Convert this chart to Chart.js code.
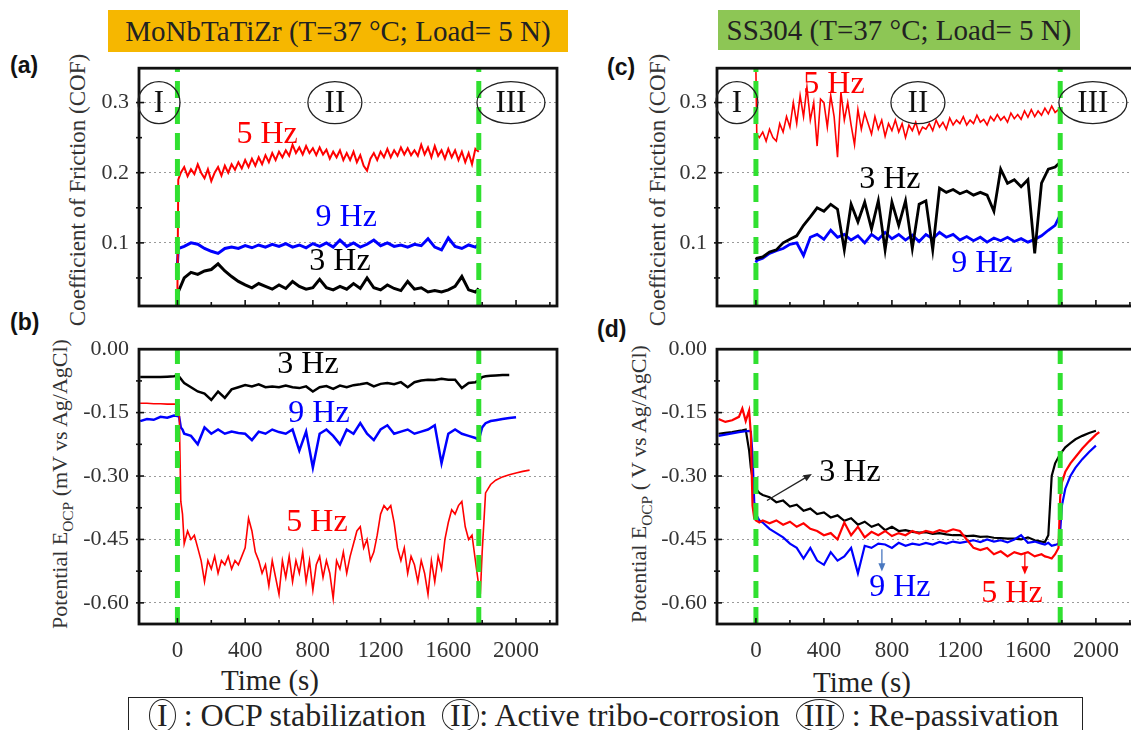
<!DOCTYPE html>
<html lang="en">
<head>
<meta charset="UTF-8">
<title>Tribo-corrosion: MoNbTaTiZr vs SS304</title>
<script src="https://cdn.jsdelivr.net/npm/chart.js"></script>
<style>
    body {
        margin: 0;
        width: 1131px;
        height: 730px;
        overflow: hidden;
        position: relative;
        background: #fff;
        font-family: "Liberation Serif", serif;
        color: #222;
    }
    .panel { position: absolute; }
    .tag {
        position: absolute;
        font-family: "Liberation Sans", Arial, sans-serif;
        font-weight: bold;
        font-size: 23px;
        color: #111;
    }
    .head {
        position: absolute;
        font-size: 29px;
        text-align: center;
        color: #222;
    }
    .ytitle {
        position: absolute;
        white-space: nowrap;
        transform: translate(-50%, -50%) rotate(-90deg);
        color: #333;
    }
    .ytitle sub { font-size: 0.7em; }
    .xtitle {
        position: absolute;
        font-size: 29px;
        transform: translate(-50%, -50%);
        white-space: nowrap;
        color: #222;
    }
    #legend {
        position: absolute;
        left: 128px;
        top: 697px;
        width: 955px;
        height: 40px;
        border: 1.5px solid #222;
        font-size: 32px;
        line-height: 34px;
        padding-left: 20px;
        box-sizing: border-box;
        white-space: nowrap;
        color: #222;
    }
    .ci {
        display: inline-block;
        border: 1.3px solid #222;
        border-radius: 50%;
        padding: 0 7px;
        line-height: 31px;
    }
</style>
</head>
<body>

<div class="head" style="left:108px;top:10px;width:460px;height:42px;line-height:42px;background:#f6b700;">MoNbTaTiZr (T=37 °C; Load= 5 N)</div>
<div class="head" style="left:718px;top:10px;width:362px;height:40px;line-height:40px;background:#8dc655;">SS304 (T=37 °C; Load= 5 N)</div>

<div class="tag" style="left:10px;top:52px;">(a)</div>
<div class="tag" style="left:10px;top:309px;">(b)</div>
<div class="tag" style="left:607px;top:54px;">(c)</div>
<div class="tag" style="left:597px;top:316px;">(d)</div>

<div class="ytitle" style="left:78px;top:190px;font-size:23px;">Coefficient of Friction (COF)</div>
<div class="ytitle" style="left:62px;top:484px;font-size:22px;">Potential E<sub>OCP</sub> (mV vs Ag/AgCl)</div>
<div class="ytitle" style="left:658px;top:190px;font-size:23px;">Coefficient of Friction (COF)</div>
<div class="ytitle" style="left:641px;top:484px;font-size:22px;">Potential E<sub>OCP</sub> ( V vs Ag/AgCl)</div>

<div class="panel" style="left:69px;top:45px;width:504px;height:313px;"><canvas id="chartA"></canvas></div>
<div class="panel" style="left:69px;top:326px;width:504px;height:334px;"><canvas id="chartB"></canvas></div>
<div class="panel" style="left:647px;top:45px;width:504px;height:313px;"><canvas id="chartC"></canvas></div>
<div class="panel" style="left:647px;top:326px;width:504px;height:334px;"><canvas id="chartD"></canvas></div>

<div class="xtitle" style="left:270px;top:680px;">Time (s)</div>
<div class="xtitle" style="left:862px;top:682px;">Time (s)</div>

<div id="legend"><span class="ci">I</span>&nbsp;: OCP stabilization&nbsp;&nbsp;<span class="ci">II</span>: Active tribo-corrosion&nbsp;&nbsp;<span class="ci">III</span>&nbsp;: Re-passivation</div>

<script>
    // ---- data (time in s) ----
    // (a) COF, MoNbTaTiZr
    const tA = [0, 5, 40, 80, 120, 160, 200, 240, 280, 320, 360, 400, 440, 480, 520, 560, 600, 640, 680, 720,
        760, 800, 840, 880, 920, 960, 1000, 1040, 1080, 1120, 1160, 1200, 1240, 1280, 1320, 1360, 1400, 1440,
        1480, 1520, 1560, 1600, 1640, 1680, 1720, 1760, 1780];
    const tA5 = [0, 5,
        20, 40, 60, 80, 100, 120, 140, 160, 180, 200, 220, 240, 260, 280, 300, 320, 340, 360, 380, 400,
        420, 440, 460, 480, 500, 520, 540, 560, 580, 600, 620, 640, 660, 680, 700, 720, 740, 760, 780, 800,
        820, 840, 860, 880, 900, 920, 940, 960, 980, 1000, 1020, 1040, 1060, 1080, 1100, 1120, 1140, 1160,
        1180, 1200, 1220, 1240, 1260, 1280, 1300, 1320, 1340, 1360, 1380, 1400, 1420, 1440, 1460, 1480, 1500,
        1520, 1540, 1560, 1580, 1600, 1620, 1640, 1660, 1680, 1700, 1720, 1740, 1760, 1780];
    const cofA5 = [0.03, 0.19,
        0.2, 0.208, 0.195, 0.205, 0.198, 0.212, 0.2, 0.192, 0.205, 0.188,
        0.2, 0.208, 0.196, 0.21, 0.2, 0.212, 0.204, 0.215, 0.206, 0.218,
        0.208, 0.22, 0.21, 0.222, 0.212, 0.225, 0.215, 0.228, 0.218, 0.23,
        0.222, 0.232, 0.224, 0.24, 0.228, 0.236, 0.226, 0.238, 0.228, 0.235,
        0.225, 0.236, 0.226, 0.233, 0.22, 0.23, 0.222, 0.232, 0.218, 0.228,
        0.218, 0.23, 0.215, 0.225, 0.21, 0.203, 0.22, 0.228, 0.218, 0.23,
        0.222, 0.234, 0.222, 0.232, 0.224, 0.236, 0.226, 0.235, 0.225, 0.232,
        0.224, 0.24, 0.226, 0.236, 0.222, 0.238, 0.224, 0.232, 0.22, 0.234,
        0.222, 0.232, 0.218, 0.23, 0.215, 0.228, 0.212, 0.234, 0.23];
    const cofA9 = [0.07, 0.092,
        0.095, 0.1, 0.098, 0.092, 0.088, 0.085, 0.092, 0.094, 0.092, 0.096,
        0.093, 0.097, 0.094, 0.098, 0.095, 0.099, 0.094, 0.097, 0.093, 0.099,
        0.095, 0.1, 0.094, 0.104, 0.095, 0.1, 0.094, 0.098, 0.104, 0.096,
        0.1, 0.095, 0.097, 0.094, 0.098, 0.096, 0.106, 0.094, 0.09, 0.107,
        0.095, 0.092, 0.097, 0.094, 0.098];
    const cofA3 = [0.005, 0.03,
        0.05, 0.058, 0.055, 0.06, 0.062, 0.07, 0.06, 0.052, 0.045, 0.04,
        0.036, 0.042, 0.038, 0.034, 0.04, 0.035, 0.045, 0.038, 0.034, 0.036,
        0.048, 0.036, 0.033, 0.038, 0.034, 0.042, 0.035, 0.05, 0.036, 0.033,
        0.04, 0.035, 0.032, 0.045, 0.034, 0.036, 0.03, 0.032, 0.03, 0.033,
        0.038, 0.052, 0.033, 0.03, 0.035];

    // (b) E_OCP, MoNbTaTiZr
    const tB = [-220, -180, -140, -100, -60, -20, 0, 10, 20, 30, 40,
        80, 120, 160, 200, 240, 280, 320, 360, 400, 440, 480, 520, 560, 600, 640, 680, 720, 760, 800, 840,
        880, 920, 960, 1000, 1040, 1080, 1120, 1160, 1200, 1240, 1280, 1320, 1360, 1400, 1440, 1480, 1520,
        1560, 1600, 1640, 1680, 1720, 1760,
        1780, 1790, 1800, 1820, 1850, 1880, 1920, 1960, 2000, 2040, 2080];
    const tB5 = [-220, -180, -140, -100, -60, -20, 0, 10, 20, 30, 40,
        60, 80, 100, 120, 140, 160, 180, 200, 220, 240, 260, 280, 300, 320, 340, 360, 380, 400, 420, 440,
        460, 480, 500, 520, 540, 560, 580, 600, 620, 640, 660, 680, 700, 720, 740, 760, 780, 800, 820, 840,
        860, 880, 900, 920, 940, 960, 980, 1000, 1020, 1040, 1060, 1080, 1100, 1120, 1140, 1160, 1180, 1200,
        1220, 1240, 1260, 1280, 1300, 1320, 1340, 1360, 1380, 1400, 1420, 1440, 1460, 1480, 1500, 1520, 1540,
        1560, 1580, 1600, 1620, 1640, 1660, 1680, 1700, 1720, 1740, 1760,
        1780, 1790, 1800, 1820, 1850, 1880, 1920, 1960, 2000, 2040, 2080];
    const ocpB5 = [-0.128, -0.128, -0.129, -0.129, -0.13, -0.13, -0.13, -0.132, -0.36, -0.39, -0.46,
        -0.43, -0.45, -0.44, -0.47, -0.5, -0.55, -0.5, -0.52, -0.49, -0.53,
        -0.5, -0.51, -0.49, -0.52, -0.5, -0.51, -0.49, -0.47, -0.4, -0.43,
        -0.48, -0.5, -0.53, -0.51, -0.56, -0.5, -0.54, -0.58, -0.5, -0.54,
        -0.49, -0.55, -0.5, -0.53, -0.48, -0.55, -0.5, -0.57, -0.51, -0.49,
        -0.54, -0.5, -0.53, -0.59, -0.5, -0.52, -0.48, -0.53, -0.49, -0.46,
        -0.43, -0.42, -0.47, -0.45, -0.5, -0.48, -0.44, -0.39, -0.37, -0.38,
        -0.37, -0.41, -0.47, -0.5, -0.47, -0.53, -0.49, -0.51, -0.55, -0.5,
        -0.53, -0.58, -0.5, -0.55, -0.49, -0.52, -0.45, -0.41, -0.38, -0.39,
        -0.37, -0.36, -0.42, -0.45, -0.44, -0.5,
        -0.56, -0.57, -0.48, -0.34, -0.32, -0.31, -0.302, -0.297, -0.293, -0.289, -0.286];
    const ocpB9 = [-0.17, -0.165, -0.167, -0.16, -0.162, -0.157, -0.158, -0.16, -0.185, -0.19, -0.2,
        -0.205, -0.225, -0.185, -0.2, -0.19, -0.2, -0.195, -0.198, -0.2, -0.215,
        -0.195, -0.2, -0.19, -0.196, -0.2, -0.19, -0.24, -0.195, -0.28, -0.2,
        -0.19, -0.205, -0.225, -0.19, -0.2, -0.175, -0.2, -0.215, -0.19, -0.18,
        -0.2, -0.195, -0.19, -0.2, -0.195, -0.19, -0.18, -0.27, -0.2, -0.19,
        -0.2, -0.205, -0.21,
        -0.215, -0.2, -0.185, -0.175, -0.17, -0.168, -0.165, -0.163, -0.161, null, null];
    const ocpB3 = [-0.066, -0.066, -0.066, -0.066, -0.065, -0.064, -0.062, -0.065, -0.07, -0.075, -0.08,
        -0.09, -0.1, -0.105, -0.12, -0.1, -0.115, -0.095, -0.09, -0.085, -0.088,
        -0.083, -0.09, -0.088, -0.09, -0.086, -0.09, -0.092, -0.088, -0.1, -0.09,
        -0.087, -0.094, -0.086, -0.09, -0.085, -0.083, -0.08, -0.088, -0.082, -0.08,
        -0.083, -0.078, -0.09, -0.078, -0.074, -0.072, -0.073, -0.07, -0.072, -0.072,
        -0.092, -0.08, -0.078,
        -0.074, -0.07, -0.066, -0.064, -0.063, -0.062, -0.061, -0.061, null, null, null];

    // (c) COF, SS304
    const tC = [0, 5, 40, 80, 120, 160, 200, 240, 280, 320, 360, 400, 440, 480, 520, 560, 600, 640, 680, 720,
        760, 800, 840, 880, 920, 960, 1000, 1040, 1080, 1120, 1160, 1200, 1240, 1280, 1320, 1360, 1400, 1440,
        1480, 1520, 1560, 1600, 1640, 1680, 1720, 1760, 1790];
    const tC5 = [0, 5,
        20, 40, 60, 80, 100, 120, 140, 160, 180, 200, 220, 240, 260, 280, 300, 320, 340, 360, 380, 400,
        420, 440, 460, 480, 500, 520, 540, 560, 580, 600, 620, 640, 660, 680, 700, 720, 740, 760, 780, 800,
        820, 840, 860, 880, 900, 920, 940, 960, 980, 1000, 1020, 1040, 1060, 1080, 1100, 1120, 1140, 1160,
        1180, 1200, 1220, 1240, 1260, 1280, 1300, 1320, 1340, 1360, 1380, 1400, 1420, 1440, 1460, 1480, 1500,
        1520, 1540, 1560, 1580, 1600, 1620, 1640, 1660, 1680, 1700, 1720, 1740, 1760, 1780, 1790];
    const cofC5 = [0.345, 0.255,
        0.25, 0.258, 0.245, 0.262, 0.25, 0.245, 0.27, 0.258, 0.28, 0.265,
        0.3, 0.27, 0.31, 0.28, 0.322, 0.275, 0.3, 0.238, 0.305, 0.3,
        0.265, 0.31, 0.28, 0.222, 0.315, 0.275, 0.3, 0.268, 0.24, 0.29,
        0.262, 0.285, 0.27, 0.255, 0.28, 0.262, 0.275, 0.252, 0.27, 0.26,
        0.275, 0.258, 0.27, 0.25, 0.268, 0.26, 0.272, 0.255, 0.265, 0.262,
        0.27, 0.26, 0.275, 0.265, 0.272, 0.262, 0.278, 0.268, 0.275, 0.27,
        0.28, 0.268, 0.275, 0.27, 0.282, 0.272, 0.276, 0.268, 0.28, 0.274,
        0.283, 0.275, 0.28, 0.272, 0.285, 0.277, 0.283, 0.276, 0.288, 0.279,
        0.29, 0.28, 0.288, 0.282, 0.292, 0.284, 0.295, 0.286, 0.29,
        0.29];
    const cofC3 = [0.076, 0.078,
        0.08, 0.087, 0.09, 0.1, 0.105, 0.11, 0.125, 0.137, 0.15, 0.145,
        0.155, 0.148, 0.09, 0.155, 0.13, 0.158, 0.12, 0.16, 0.09, 0.158,
        0.125, 0.16, 0.092, 0.155, 0.16, 0.09, 0.178, 0.172, 0.176, 0.17,
        0.174, 0.168, 0.172, 0.168, 0.145, 0.205, 0.185, 0.19, 0.18, 0.19,
        0.085, 0.185, 0.205, 0.208, 0.215];
    const cofC9 = [0.072, 0.075,
        0.078, 0.085, 0.089, 0.092, 0.098, 0.1, 0.082, 0.108, 0.112, 0.105,
        0.118, 0.108, 0.112, 0.104, 0.11, 0.1, 0.112, 0.105, 0.115, 0.106,
        0.112, 0.104, 0.111, 0.102, 0.112, 0.106, 0.115, 0.108, 0.112, 0.104,
        0.109, 0.103, 0.108, 0.101, 0.107, 0.103, 0.108, 0.102, 0.106, 0.101,
        0.105, 0.11, 0.118, 0.125, 0.14];

    // (d) E_OCP, SS304
    const tD = [-220, -180, -140, -100, -80, -60, -40, -30, -20, -10, 0, 20, 40,
        80, 120, 160, 200, 240, 280, 320, 360, 400, 440, 480, 520, 560, 600, 640, 680, 720, 760, 800, 840,
        880, 920, 960, 1000, 1040, 1080, 1120, 1160, 1200, 1240, 1280, 1320, 1360, 1400, 1440, 1480, 1520,
        1560, 1600, 1640, 1680,
        1700, 1720, 1740, 1760, 1780, 1790, 1800, 1820, 1850, 1880, 1920, 1960, 2000, 2020];
    const ocpD5 = [-0.165, -0.172, -0.168, -0.16, -0.14, -0.17, -0.145, -0.2, -0.37, -0.4, -0.405, -0.41, -0.405,
        -0.412, -0.405, -0.415, -0.408, -0.42, -0.412, -0.425, -0.43, -0.44, -0.435,
        -0.45, -0.41, -0.44, -0.42, -0.445, -0.432, -0.44, -0.43, -0.442, -0.435,
        -0.44, -0.43, -0.436, -0.43, -0.434, -0.428, -0.432, -0.426, -0.43, -0.45,
        -0.47, -0.475, -0.47, -0.485, -0.478, -0.49, -0.48, -0.485, -0.48, -0.49,
        -0.485,
        -0.49, -0.492, -0.495, -0.485, -0.47, -0.35, -0.315, -0.29, -0.27, -0.255, -0.235, -0.218, -0.202, -0.196];
    const ocpD3 = [-0.2, -0.198, -0.196, -0.193, -0.192, -0.19, -0.24, -0.28, -0.305, -0.32, -0.33, -0.34, -0.345,
        -0.35, -0.362, -0.358, -0.372, -0.368, -0.382, -0.377, -0.39, -0.386, -0.398,
        -0.393, -0.406, -0.4, -0.415, -0.408, -0.42, -0.414, -0.428, -0.42, -0.43,
        -0.428, -0.432, -0.434, -0.433, -0.437, -0.435, -0.438, -0.44, -0.44, -0.442,
        -0.441, -0.444, -0.443, -0.446, -0.447, -0.448, -0.448, -0.45, -0.445, -0.452,
        -0.455,
        -0.456, -0.44, -0.3, -0.27, -0.255, -0.25, -0.243, -0.232, -0.222, -0.213, -0.205, -0.198, -0.193, null];
    const ocpD9 = [-0.205, -0.202, -0.199, -0.196, -0.195, -0.194, -0.193, -0.195, -0.25, -0.36, -0.39, -0.405, -0.41,
        -0.425, -0.435, -0.445, -0.46, -0.47, -0.495, -0.47, -0.5, -0.51, -0.48,
        -0.5, -0.49, -0.47, -0.53, -0.465, -0.47, -0.46, -0.462, -0.47, -0.458,
        -0.465, -0.46, -0.463, -0.458, -0.462, -0.456, -0.46, -0.455, -0.458, -0.455,
        -0.452, -0.456, -0.45, -0.455, -0.452, -0.457, -0.45, -0.44, -0.458, -0.455,
        -0.46,
        -0.462, -0.458, -0.465, -0.463, -0.46, -0.43, -0.37, -0.33, -0.3, -0.28, -0.26, -0.243, -0.228, null];

    // phase boundaries (start / end of rubbing)
    const phaseLeft = [0, 1780];
    const phaseRight = [0, 1790];

    // axis ticks
    const timeTicks = [0, 400, 800, 1200, 1600, 2000];
    const cofTicks = [0.1, 0.2, 0.3];
    const ocpTicks = [0, -0.15, -0.3, -0.45, -0.6];

    const RED = '#ff0000', BLUE = '#0000ff', BLACK = '#000000', GREEN = '#30e030';
    const SERIF = "'Liberation Serif', 'Times New Roman', serif";

    function series(t, v) {
        var out = [];
        t.forEach(function (x, i) {
            if (v[i] !== null && v[i] !== undefined) out.push({x: x, y: v[i]});
        });
        return out;
    }

    function line(t, v, color, width, order) {
        return {data: series(t, v), borderColor: color, borderWidth: width, order: order};
    }

    function phaseLines(xs, yMin, yMax) {
        return xs.map(function (x) {
            return {
                data: [{x: x, y: yMin}, {x: x, y: yMax}],
                borderColor: GREEN, borderWidth: 5, borderDash: [17, 9], order: 0
            };
        });
    }

    // frame + small inward ticks
    const framePlugin = {
        id: 'frame',
        afterDatasetsDraw(chart, args, o) {
            const ctx = chart.ctx, a = chart.chartArea, x = chart.scales.x, y = chart.scales.y;
            ctx.save();
            ctx.strokeStyle = '#111';
            ctx.lineWidth = 1.6;
            for (let v = 0; v <= 2200; v += 200) {
                const px = x.getPixelForValue(v);
                const len = v % 400 === 0 ? 6 : 4;
                ctx.beginPath(); ctx.moveTo(px, a.bottom); ctx.lineTo(px, a.bottom - len); ctx.stroke();
            }
            o.yMarks.forEach(function (v, i) {
                const py = y.getPixelForValue(v);
                ctx.beginPath(); ctx.moveTo(a.left - 3, py); ctx.lineTo(a.left + (i % 2 ? 5 : 3), py); ctx.stroke();
            });
            ctx.lineWidth = 2.8;
            ctx.strokeRect(a.left, a.top, a.right - a.left, a.bottom - a.top);
            ctx.restore();
        }
    };

    function drawArrow(ctx, x1, y1, x2, y2, color, w) {
        const ang = Math.atan2(y2 - y1, x2 - x1), h = 9;
        ctx.strokeStyle = color; ctx.fillStyle = color; ctx.lineWidth = w;
        ctx.beginPath(); ctx.moveTo(x1, y1);
        ctx.lineTo(x2 - Math.cos(ang) * h * 0.7, y2 - Math.sin(ang) * h * 0.7); ctx.stroke();
        ctx.beginPath(); ctx.moveTo(x2, y2);
        ctx.lineTo(x2 - h * Math.cos(ang - 0.4), y2 - h * Math.sin(ang - 0.4));
        ctx.lineTo(x2 - h * Math.cos(ang + 0.4), y2 - h * Math.sin(ang + 0.4));
        ctx.closePath(); ctx.fill();
    }

    // labels, circled phase numbers, arrows (placed in data coordinates)
    const notesPlugin = {
        id: 'notes',
        afterDraw(chart, args, o) {
            const ctx = chart.ctx, x = chart.scales.x, y = chart.scales.y;
            ctx.save();
            ctx.textAlign = 'center';
            ctx.textBaseline = 'middle';
            (o.circles || []).forEach(function (c) {
                const cx = x.getPixelForValue(c.x), cy = y.getPixelForValue(c.y);
                ctx.beginPath();
                ctx.ellipse(cx, cy, c.rx, 21, 0, 0, Math.PI * 2);
                ctx.lineWidth = 1.3; ctx.strokeStyle = '#222'; ctx.stroke();
                ctx.font = '31px ' + SERIF; ctx.fillStyle = '#111';
                ctx.fillText(c.t, cx, cy + 1);
            });
            (o.arrows || []).forEach(function (r) {
                drawArrow(ctx, x.getPixelForValue(r.x1), y.getPixelForValue(r.y1),
                    x.getPixelForValue(r.x2), y.getPixelForValue(r.y2), r.c, 1.3);
            });
            (o.texts || []).forEach(function (t) {
                ctx.font = '32px ' + SERIF; ctx.fillStyle = t.c;
                ctx.fillText(t.t, x.getPixelForValue(t.x), y.getPixelForValue(t.y));
            });
            ctx.restore();
        }
    };

    Chart.register(framePlugin, notesPlugin);

    function panel(id, cfg) {
        return new Chart(document.getElementById(id), {
            type: 'line',
            data: {datasets: cfg.datasets},
            options: {
                responsive: true,
                maintainAspectRatio: false,
                animation: false,
                layout: {padding: {top: 16, right: 16, bottom: cfg.showX ? 0 : 16, left: 0}},
                elements: {point: {radius: 0}, line: {tension: 0}},
                plugins: {
                    legend: {display: false},
                    tooltip: {enabled: false},
                    frame: {yMarks: cfg.yMarks},
                    notes: cfg.notes
                },
                scales: {
                    x: {
                        type: 'linear',
                        min: cfg.xMin,
                        max: cfg.xMax,
                        display: cfg.showX,
                        grid: {display: false},
                        border: {display: false},
                        afterBuildTicks: function (s) { s.ticks = timeTicks.map(function (v) { return {value: v}; }); },
                        afterFit: function (s) { s.height = 36; },
                        ticks: {
                            font: {family: SERIF, size: 23},
                            color: '#333',
                            padding: 5,
                            maxRotation: 0,
                            callback: function (v) { return String(v); }
                        }
                    },
                    y: {
                        min: cfg.yMin,
                        max: cfg.yMax,
                        afterBuildTicks: function (s) { s.ticks = cfg.yTicks.map(function (v) { return {value: v}; }); },
                        afterFit: function (s) { s.width = 70; },
                        grid: {
                            drawTicks: false,
                            lineWidth: 1,
                            color: function (c) { return c.tick && c.tick.value === 0 ? 'rgba(0,0,0,0)' : '#9a9a9a'; }
                        },
                        border: {display: false, dash: [2, 3]},
                        ticks: {
                            font: {family: SERIF, size: 22},
                            color: '#333',
                            padding: 10,
                            callback: cfg.fmt
                        }
                    }
                }
            }
        });
    }

    const cofFmt = function (v) { return v.toFixed(1); };
    const ocpFmt = function (v) { return v === 0 ? '0.00' : v.toFixed(2); };
    const cofMarks = [0.05, 0.1, 0.15, 0.2, 0.25, 0.3];
    const ocpMarks = [-0.075, -0.15, -0.225, -0.3, -0.375, -0.45, -0.525, -0.6];

    panel('chartA', {
        xMin: -227, xMax: 2242, yMin: 0.01, yMax: 0.349, showX: false,
        yTicks: cofTicks, yMarks: cofMarks, fmt: cofFmt,
        datasets: [
            line(tA5, cofA5, RED, 2, 1),
            line(tA, cofA9, BLUE, 3, 2),
            line(tA, cofA3, BLACK, 3, 3)
        ].concat(phaseLines(phaseLeft, 0.01, 0.349)),
        notes: {
            circles: [{t: 'I', x: -109, y: 0.3, rx: 21}, {t: 'II', x: 930, y: 0.3, rx: 27}, {t: 'III', x: 1970, y: 0.3, rx: 34}],
            texts: [
                {t: '5 Hz', x: 530, y: 0.254, c: RED},
                {t: '9 Hz', x: 997, y: 0.1355, c: BLUE},
                {t: '3 Hz', x: 960, y: 0.073, c: BLACK}
            ]
        }
    });

    panel('chartB', {
        xMin: -227, xMax: 2242, yMin: -0.65, yMax: 0, showX: true,
        yTicks: ocpTicks, yMarks: ocpMarks, fmt: ocpFmt,
        datasets: [
            line(tB5, ocpB5, RED, 1.6, 1),
            line(tB, ocpB9, BLUE, 2.5, 2),
            line(tB, ocpB3, BLACK, 2.5, 3)
        ].concat(phaseLines(phaseLeft, -0.65, 0)),
        notes: {
            texts: [
                {t: '3 Hz', x: 771, y: -0.037, c: BLACK},
                {t: '9 Hz', x: 836, y: -0.152, c: BLUE},
                {t: '5 Hz', x: 824, y: -0.411, c: RED}
            ]
        }
    });

    panel('chartC', {
        xMin: -229, xMax: 2230, yMin: 0.01, yMax: 0.349, showX: false,
        yTicks: cofTicks, yMarks: cofMarks, fmt: cofFmt,
        datasets: [
            line(tC5, cofC5, RED, 1.6, 1),
            line(tC, cofC3, BLACK, 2.8, 2),
            line(tC, cofC9, BLUE, 2.8, 3)
        ].concat(phaseLines(phaseRight, 0.01, 0.349)),
        notes: {
            circles: [{t: 'I', x: -112, y: 0.3, rx: 21}, {t: 'II', x: 953, y: 0.3, rx: 27}, {t: 'III', x: 1982, y: 0.3, rx: 34}],
            texts: [
                {t: '5 Hz', x: 459, y: 0.326, c: RED},
                {t: '3 Hz', x: 788, y: 0.19, c: BLACK},
                {t: '9 Hz', x: 1329, y: 0.0705, c: BLUE}
            ]
        }
    });

    panel('chartD', {
        xMin: -229, xMax: 2230, yMin: -0.65, yMax: 0, showX: true,
        yTicks: ocpTicks, yMarks: ocpMarks, fmt: ocpFmt,
        datasets: [
            line(tD, ocpD5, RED, 2.2, 1),
            line(tD, ocpD9, BLUE, 2.2, 2),
            line(tD, ocpD3, BLACK, 2.2, 3)
        ].concat(phaseLines(phaseRight, -0.65, 0)),
        notes: {
            texts: [
                {t: '3 Hz', x: 553, y: -0.291, c: BLACK},
                {t: '9 Hz', x: 847, y: -0.565, c: BLUE},
                {t: '5 Hz', x: 1506, y: -0.579, c: RED}
            ],
            arrows: [
                {x1: 65, y1: -0.358, x2: 329, y2: -0.295, c: '#222'},
                {x1: 741, y1: -0.473, x2: 741, y2: -0.526, c: '#4a78c0'},
                {x1: 1582, y1: -0.48, x2: 1582, y2: -0.533, c: RED}
            ]
        }
    });
</script>
</body>
</html>
